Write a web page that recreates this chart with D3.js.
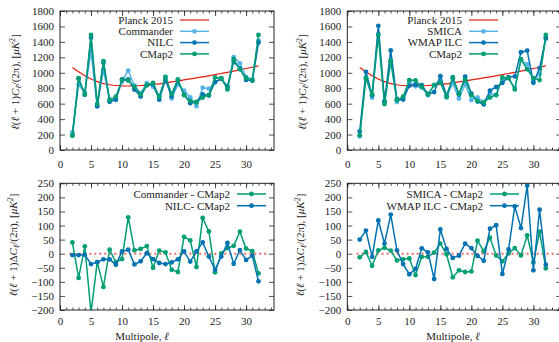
<!DOCTYPE html>
<html>
<head>
<meta charset="utf-8">
<script src="https://cdn.jsdelivr.net/npm/d3@7"></script>
<style>
body { margin: 0; background: #fff; }
svg text { font-family: "Liberation Serif", serif; font-size: 11px; fill: #222; }
</style>
</head>
<body>
<svg id="chart" width="559" height="342"></svg>
<script>
// multipoles
var ell = [2,3,4,5,6,7,8,9,10,11,12,13,14,15,16,17,18,19,20,21,22,23,24,25,26,27,28,29,30,31,32];

// top panels, l(l+1)C_l/(2pi) in muK^2
var planck    = [1068,1012,962,920,885,860,845,835,830,829,831,835,841,848,857,869,881,894,907,920,933,947,961,976,991,1006,1022,1038,1055,1072,1090];
var commander = [230,844,746,1280,565,1032,659,660,886,1029,832,737,867,820,696,950,668,850,770,682,568,807,794,874,931,805,1203,1123,948,914,1420];
var nilc      = [185,925,716,1453,565,1130,625,651,913,914,782,693,842,851,652,908,694,895,718,607,623,720,705,883,920,823,1139,1058,908,898,1392];
var smica     = [177,936,677,1502,616,1161,621,670,888,824,809,709,844,906,683,861,666,850,647,681,624,737,709,913,931,805,1169,1110,899,983,1438];
var wmap      = [240,1012,709,1608,631,1289,657,653,832,846,839,725,750,956,702,930,718,951,730,627,590,769,816,868,945,953,1266,1287,871,1061,1451];
var cmap2     = [190,930,720,1490,595,1150,645,690,905,900,820,720,840,870,685,945,725,915,710,635,615,680,715,940,930,785,1175,1045,930,905,1490];

// bottom panels, differences
var commanderDiff = [40,-86,26,-210,-30,-118,14,-30,-19,129,12,17,27,-50,11,5,-57,-65,60,47,-47,127,79,-66,1,20,28,78,18,9,-70];
var nilcDiff      = [-5,-5,-4,-37,-30,-20,-20,-39,8,14,-38,-27,2,-19,-33,-37,-31,-20,8,-28,8,40,-10,-57,-10,38,-36,13,-22,-7,-98];
var smicaDiff     = [-13,6,-43,12,21,11,-24,-20,-17,-76,-11,-11,4,36,-2,-84,-59,-65,-63,46,9,57,-6,-27,1,20,-6,65,-31,78,-52];
var wmapDiff      = [50,82,-11,118,36,139,12,-37,-73,-54,19,5,-90,86,17,-15,-7,36,20,-8,-25,89,101,-72,15,168,91,242,-59,156,-39];

var xTicks = [0,5,10,15,20,25,30];
var xMinor = [0,1,2,3,4,5,6,7,8,9,10,11,12,13,14,15,16,17,18,19,20,21,22,23,24,25,26,27,28,29,30,31,32,33,34];
var yTicksTop = [0,200,400,600,800,1000,1200,1400,1600,1800];
var yTicksBot = [-200,-150,-100,-50,0,50,100,150,200,250];
var zeroRange = [1.5, 33.5];

var red = "#e51e10", light = "#56b4e9", dark = "#0072b2", green = "#009e73";

var svg = d3.select("#chart");

function yLabel(g, x, y, delta) {
  var t = g.append("text")
    .attr("transform", "translate(" + x + "," + y + ") rotate(-90)")
    .attr("text-anchor", "middle")
    .attr("dy", "0.35em");
  t.append("tspan").attr("font-style", "italic").text("ℓ");
  t.append("tspan").text("(");
  t.append("tspan").attr("font-style", "italic").text("ℓ");
  t.append("tspan").text(" + 1)" + (delta ? "Δ" : ""));
  t.append("tspan").attr("font-style", "italic").text("C");
  t.append("tspan").attr("font-style", "italic").style("font-size", "8px").attr("dy", "2").text("ℓ");
  t.append("tspan").attr("dy", "-2").text("/(2π), [");
  t.append("tspan").attr("font-style", "italic").text("μK");
  t.append("tspan").style("font-size", "8px").attr("dy", "-4").text("2");
  t.append("tspan").attr("dy", "4").text("]");
}

function panel(p) {
  var x = d3.scaleLinear().domain([0, 34.5]).range([p.x0, p.x0 + 214]);
  var y = d3.scaleLinear().domain(p.yDomain).range([p.y1, p.y0]);
  var g = svg.append("g");

  svg.append("clipPath").attr("id", "clip" + p.id)
    .append("rect")
      .attr("x", p.x0).attr("y", p.y0)
      .attr("width", 214).attr("height", p.y1 - p.y0);

  g.append("g").attr("transform", "translate(0," + p.y1 + ")")
    .call(d3.axisBottom(x).tickValues(xTicks).tickSizeInner(-5).tickSizeOuter(0).tickPadding(p.xPad));
  g.append("g").attr("transform", "translate(0," + p.y1 + ")")
    .call(d3.axisBottom(x).tickValues(xMinor).tickSizeInner(-2.5).tickSizeOuter(0).tickFormat(""));
  g.append("g").attr("transform", "translate(0," + p.y0 + ")")
    .call(d3.axisTop(x).tickValues(xTicks).tickSizeInner(-5).tickSizeOuter(0).tickFormat(""));
  g.append("g").attr("transform", "translate(0," + p.y0 + ")")
    .call(d3.axisTop(x).tickValues(xMinor).tickSizeInner(-2.5).tickSizeOuter(0).tickFormat(""));
  g.append("g").attr("transform", "translate(" + p.x0 + ",0)")
    .call(d3.axisLeft(y).tickValues(p.yTicks).tickSizeInner(-5).tickSizeOuter(0).tickPadding(6).tickFormat(d3.format("d")));
  g.append("g").attr("transform", "translate(" + (p.x0 + 214) + ",0)")
    .call(d3.axisRight(y).tickValues(p.yTicks).tickSizeInner(-5).tickSizeOuter(0).tickFormat(""));

  g.selectAll(".domain").remove();
  g.selectAll(".tick line").attr("stroke", "#222").attr("stroke-width", 0.8);

  var plot = g.append("g").attr("clip-path", "url(#clip" + p.id + ")");

  if (p.theory) {
    plot.append("path")
      .datum(p.theory)
      .attr("fill", "none")
      .attr("stroke", red)
      .attr("stroke-width", 1.2)
      .attr("d", d3.line().curve(d3.curveNatural).x(function(d, i) { return x(ell[i]); }).y(function(d) { return y(d); }));
  }
  if (p.zero) {
    plot.append("path")
      .datum(zeroRange)
      .attr("fill", "none")
      .attr("stroke", red)
      .attr("stroke-opacity", 0.65)
      .attr("stroke-width", 2)
      .attr("stroke-dasharray", "2,3")
      .attr("d", d3.line().x(function(d) { return x(d); }).y(function() { return y(0); }));
  }

  p.series.forEach(function(s) {
    plot.append("path")
      .datum(s.values)
      .attr("fill", "none")
      .attr("stroke", s.color)
      .attr("stroke-width", 1.5)
      .attr("d", d3.line().x(function(d, i) { return x(ell[i]); }).y(function(d) { return y(d); }));
    plot.selectAll(null)
      .data(s.values)
      .enter().append("circle")
        .attr("cx", function(d, i) { return x(ell[i]); })
        .attr("cy", function(d) { return y(d); })
        .attr("r", 2.4)
        .attr("fill", s.color);
  });

  g.append("rect")
    .attr("x", p.x0).attr("y", p.y0)
    .attr("width", 214).attr("height", p.y1 - p.y0)
    .attr("fill", "none").attr("stroke", "#222").attr("stroke-width", 1);

  // legend
  var items = (p.theory ? [{name: "Planck 2015", color: red, line: true}] : []).concat(p.series);
  items.forEach(function(s, i) {
    var ly = p.legY + i * p.legStep;
    g.append("text")
      .attr("x", p.legX).attr("y", ly).attr("dy", "0.35em")
      .attr("text-anchor", "end")
      .text(s.name);
    g.append("line")
      .attr("x1", p.legX + 7).attr("x2", p.legX + 36)
      .attr("y1", ly).attr("y2", ly)
      .attr("stroke", s.color).attr("stroke-width", s.line ? 1.2 : 1.5);
    if (!s.line) {
      g.append("circle").attr("cx", p.legX + 21.5).attr("cy", ly).attr("r", 2.4).attr("fill", s.color);
    }
  });

  yLabel(g, p.yLabX, p.yLabY, p.delta);
  if (p.xLabX) {
    var t = g.append("text").attr("x", p.xLabX).attr("y", 340).attr("text-anchor", "middle");
    t.append("tspan").text("Multipole, ");
    t.append("tspan").attr("font-style", "italic").text("ℓ");
  }
}

panel({id: "tl", x0: 60, y0: 11, y1: 150, yDomain: [0, 1800], yTicks: yTicksTop, xPad: 10,
  theory: planck,
  series: [{name: "Commander", values: commander, color: light},
           {name: "NILC", values: nilc, color: dark},
           {name: "CMap2", values: cmap2, color: green}],
  legX: 173, legY: 20, legStep: 11.3, yLabX: 15, yLabY: 82});

panel({id: "tr", x0: 347.3, y0: 11, y1: 150, yDomain: [0, 1800], yTicks: yTicksTop, xPad: 10,
  theory: planck,
  series: [{name: "SMICA", values: smica, color: light},
           {name: "WMAP ILC", values: wmap, color: dark},
           {name: "CMap2", values: cmap2, color: green}],
  legX: 462, legY: 20, legStep: 11.3, yLabX: 302, yLabY: 82});

panel({id: "bl", x0: 60, y0: 183.3, y1: 310, yDomain: [-200, 250], yTicks: yTicksBot, xPad: 7,
  zero: true, delta: true,
  series: [{name: "Commander - CMap2", values: commanderDiff, color: green},
           {name: "NILC- CMap2", values: nilcDiff, color: dark}],
  legX: 230, legY: 194, legStep: 11.7, yLabX: 13, yLabY: 245, xLabX: 142});

panel({id: "br", x0: 347.3, y0: 183.3, y1: 310, yDomain: [-200, 250], yTicks: yTicksBot, xPad: 7,
  zero: true, delta: true,
  series: [{name: "SMICA - CMap2", values: smicaDiff, color: green},
           {name: "WMAP ILC - CMap2", values: wmapDiff, color: dark}],
  legX: 483, legY: 194, legStep: 11.7, yLabX: 300, yLabY: 245, xLabX: 453});
</script>
</body>
</html>
